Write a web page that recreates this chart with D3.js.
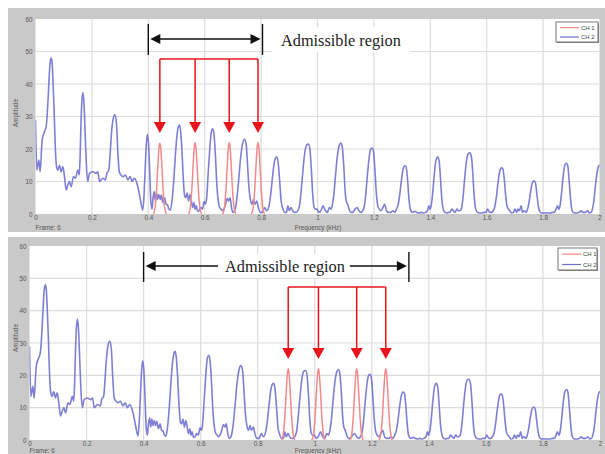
<!DOCTYPE html>
<html><head><meta charset="utf-8">
<script src="https://cdn.jsdelivr.net/npm/d3@7"></script>
<style>body{margin:0;background:#fff;overflow:hidden}svg{display:block}</style></head>
<body>
<svg id="c" width="605" height="454"></svg>
<script>
// ---------- data ----------
const freqTicks = [0,0.2,0.4,0.6,0.8,1,1.2,1.4,1.6,1.8,2];
const freqTickLabels = ["0","0.2","0.4","0.6","0.8","1","1.2","1.4","1.6","1.8","2"];
const ampTicks = [0,10,20,30,40,50,60];
const seriesNames = ["CH 1","CH 2"];
const frameLabel = "Frame: 6";
const xTitle = "Frequency (kHz)";
const yTitle = "Amplitude";
const annotationText = "Admissible region";

// CH 2 (blue) spectrum, [kHz, amplitude]
const ch2 = [
[0,28.9],[0.0047,13.5],[0.0118,16.6],[0.0165,13],[0.0236,22.8],[0.0319,25.3],[0.038,27],[0.041,30],[0.045,36],[0.049,43],[0.0525,47],[0.0556,48],[0.059,46.5],[0.062,41],[0.066,32],[0.07,21],[0.074,15],[0.0795,13.5],[0.0851,15],[0.091,13],[0.097,14.6],[0.1028,11.5],[0.1087,7.4],[0.1147,8.9],[0.1206,10],[0.1265,8.4],[0.1348,11.5],[0.1418,11],[0.1501,13.5],[0.155,12],[0.158,17],[0.161,27],[0.164,34],[0.168,37.4],[0.172,34],[0.176,25],[0.18,16],[0.185,10],[0.1915,12.5],[0.2033,13],[0.2151,12.5],[0.221,13],[0.227,10],[0.2388,11],[0.2482,10.5],[0.253,12.5],[0.26,13.5],[0.265,19],[0.27,25.5],[0.276,29.5],[0.2815,30.5],[0.287,28],[0.292,19],[0.297,13],[0.3035,12],[0.3097,11.5],[0.3191,12],[0.3274,10.5],[0.3357,11.5],[0.3428,10],[0.351,11],[0.3629,8.4],[0.3712,4.8],[0.3806,1.2],[0.385,6],[0.389,14],[0.393,21.5],[0.397,24.5],[0.401,21.5],[0.405,13],[0.409,4],[0.413,1.5],[0.417,5],[0.421,6.9],[0.425,4],[0.429,6.5],[0.433,4.5],[0.437,6],[0.442,4.5],[0.446,5.8],[0.452,3.5],[0.458,5],[0.463,3],[0.468,2.8],[0.473,1.5],[0.478,1.2],[0.484,4],[0.49,10],[0.496,18],[0.502,24.5],[0.507,27],[0.51,27.4],[0.514,26],[0.519,20],[0.524,11],[0.529,5.5],[0.533,5],[0.538,6.5],[0.543,4],[0.548,6],[0.552,4.5],[0.557,2],[0.562,3.5],[0.566,1.5],[0.57,2.5],[0.575,0.8],[0.58,1],[0.586,2],[0.592,1.5],[0.598,3.8],[0.603,3],[0.607,5],[0.612,12],[0.618,20],[0.623,25],[0.628,26.2],[0.633,24.5],[0.638,18],[0.643,9],[0.648,4],[0.653,2],[0.658,1.5],[0.663,1],[0.668,1.5],[0.674,3],[0.68,4.8],[0.685,4],[0.69,5],[0.695,2],[0.7,0.5],[0.706,1],[0.713,4],[0.72,10],[0.727,17],[0.734,21.5],[0.741,23],[0.747,21.5],[0.752,15],[0.757,8],[0.762,4.5],[0.768,3],[0.773,4.5],[0.778,3],[0.785,4],[0.79,2],[0.797,0.5],[0.805,0.5],[0.812,2],[0.82,1],[0.828,2.5],[0.834,6],[0.84,11],[0.846,15.5],[0.852,17.3],[0.856,17.5],[0.861,15.5],[0.866,10],[0.871,4],[0.876,2],[0.884,0.5],[0.89,0.5],[0.895,2.5],[0.9,1],[0.906,2],[0.912,1],[0.918,0.5],[0.925,0.5],[0.93,1],[0.937,3],[0.943,8],[0.949,14],[0.956,19.5],[0.962,21.3],[0.968,21.5],[0.973,20],[0.978,14],[0.983,6],[0.988,2],[0.993,1.5],[0.998,1.5],[1.005,0.5],[1.012,1],[1.02,2.5],[1.028,1],[1.035,0.5],[1.042,2],[1.048,1.5],[1.052,2.5],[1.058,6],[1.064,12],[1.07,17.5],[1.077,21],[1.083,21.8],[1.088,20.5],[1.093,15],[1.098,7],[1.102,4],[1.107,3],[1.112,1.5],[1.118,0.5],[1.125,0.5],[1.133,1.5],[1.14,2],[1.147,1],[1.155,0.5],[1.16,1],[1.165,2],[1.17,5],[1.176,11],[1.182,16.5],[1.188,19.8],[1.194,20.3],[1.199,19],[1.204,13],[1.209,6],[1.214,2.5],[1.219,1.5],[1.225,1],[1.232,2],[1.238,3],[1.245,1],[1.252,0.5],[1.26,0.5],[1.267,1],[1.275,0.5],[1.28,1.5],[1.285,2.5],[1.291,5.5],[1.297,10],[1.303,13.5],[1.309,14.8],[1.314,14.5],[1.319,11],[1.324,5],[1.329,1.5],[1.337,0.5],[1.345,0.8],[1.352,0.5],[1.36,0.3],[1.368,0.5],[1.375,0.3],[1.383,0.5],[1.39,1],[1.395,2.5],[1.399,1.5],[1.403,2.5],[1.408,6],[1.414,12],[1.42,16.5],[1.426,17.5],[1.431,16.5],[1.436,11],[1.441,4.5],[1.446,1.5],[1.452,0.5],[1.458,0.3],[1.465,0.5],[1.47,0.5],[1.476,1.5],[1.482,1],[1.488,0.5],[1.494,1.5],[1.5,1],[1.505,1],[1.51,1.5],[1.516,5],[1.522,11],[1.528,16],[1.534,18.5],[1.54,18.8],[1.546,17.5],[1.551,12],[1.556,5],[1.561,1.5],[1.568,0.5],[1.575,0.3],[1.582,0.3],[1.59,0.5],[1.597,0.5],[1.603,1.5],[1.61,0.5],[1.617,0.5],[1.623,1],[1.628,2],[1.634,5],[1.64,9.5],[1.646,13],[1.652,14.2],[1.657,14],[1.662,11],[1.667,6],[1.672,2.5],[1.677,1.5],[1.682,1],[1.688,0.3],[1.695,0.5],[1.7,1.5],[1.706,0.5],[1.711,1.5],[1.716,1],[1.722,2.5],[1.727,0.5],[1.733,1],[1.74,0.5],[1.745,1.5],[1.75,3.5],[1.756,7],[1.762,9.6],[1.768,10.2],[1.773,9.5],[1.778,6],[1.783,2.5],[1.788,0.8],[1.795,0.3],[1.805,0.3],[1.815,0.3],[1.825,0.3],[1.833,0.5],[1.84,0.5],[1.846,1.5],[1.851,2.5],[1.856,1.5],[1.86,2.5],[1.865,6],[1.871,11.5],[1.877,15],[1.883,15.6],[1.888,14.5],[1.893,9.5],[1.898,4],[1.903,1],[1.91,0.3],[1.92,0.3],[1.928,0.5],[1.935,1],[1.94,0.5],[1.95,0.5],[1.958,1],[1.964,0.3],[1.97,0.5],[1.975,1.5],[1.98,4],[1.986,9],[1.992,13],[1.997,14.8],[2.0,15]
];

// CH 1 (red) peaks, [kHz, amplitude]; null separates peaks
const ch1Top = [
[0.418,0],[0.424,2],[0.429,7],[0.434,15],[0.438,20.5],[0.441,21.8],[0.444,20.5],[0.448,15],[0.453,7],[0.458,2],[0.464,0],null,
[0.543,0],[0.549,2],[0.554,7],[0.559,15],[0.563,20.5],[0.566,22],[0.569,20.5],[0.573,15],[0.578,7],[0.583,2],[0.589,0],null,
[0.664,0],[0.67,2],[0.675,7],[0.68,15],[0.684,20.5],[0.687,22],[0.69,20.5],[0.694,15],[0.699,7],[0.704,2],[0.71,0],null,
[0.766,0],[0.772,2],[0.777,7],[0.782,15],[0.786,20.5],[0.789,22],[0.792,20.5],[0.796,15],[0.801,7],[0.806,2],[0.812,0]
];
const ch1Bottom = [
[0.884,0],[0.89,2],[0.895,7],[0.9,15],[0.904,20.5],[0.907,22],[0.91,20.5],[0.914,15],[0.919,7],[0.924,2],[0.93,0],null,
[0.99,0],[0.996,2],[1.001,7],[1.006,15],[1.01,20.5],[1.013,22],[1.016,20.5],[1.02,15],[1.025,7],[1.03,2],[1.036,0],null,
[1.124,0],[1.13,2],[1.135,7],[1.14,15],[1.144,20.5],[1.147,22],[1.15,20.5],[1.154,15],[1.159,7],[1.164,2],[1.17,0],null,
[1.226,0],[1.232,2],[1.237,7],[1.242,15],[1.246,20.5],[1.249,22],[1.252,20.5],[1.256,15],[1.261,7],[1.266,2],[1.272,0]
];
const ch1TopPeaks = [0.441,0.566,0.687,0.789];
const ch1BottomPeaks = [0.907,1.013,1.147,1.249];
const admissibleTop = [0.4, 0.805];
const admissibleBottom = [0.4, 1.33];

// ---------- drawing ----------
const svg = d3.select('#c');
const defs = svg.append('defs');
const C1 = '#f28a8a', C2 = '#7070cf', RED = '#e8141c';
const SANS = 'Liberation Sans, Arial, sans-serif';

const panels = [
  {id:'p0', frame:{x:8,y:8,w:597,h:224}, plot:{l:35.5,r:599.5,t:19,b:214}, red:ch1Top, peaks:ch1TopPeaks,
   adm:admissibleTop, admMode:'top', admY:[24,55,39], redY:[59,133], legend:{x:556,y:22,w:42,h:20}, titleY:230, yTitleY:113},
  {id:'p1', frame:{x:8,y:237,w:597,h:220}, plot:{l:29.5,r:600,t:246,b:440}, red:ch1Bottom, peaks:ch1BottomPeaks,
   adm:admissibleBottom, admMode:'bottom', admY:[252,282,266], redY:[287,359], legend:{x:558,y:248,w:39,h:22}, titleY:452.5, yTitleY:338}
];

function arrowHead(g, x, y, dir, len, half, color){
  let pts;
  if(dir==='left') pts=[[x,y],[x+len,y-half],[x+len,y+half]];
  else if(dir==='right') pts=[[x,y],[x-len,y-half],[x-len,y+half]];
  else pts=[[x,y],[x-half,y-len],[x+half,y-len]];
  g.append('path').attr('d','M'+pts.map(p=>p.join(',')).join('L')+'Z').attr('fill',color);
}

panels.forEach(P=>{
  const g = svg.append('g');
  const f = P.frame, p = P.plot;
  g.append('rect').attr('x',f.x).attr('y',f.y).attr('width',f.w).attr('height',f.h).attr('fill','#c9c9c9');
  g.append('rect').attr('x',p.l).attr('y',p.t).attr('width',p.r-p.l).attr('height',p.b-p.t).attr('fill','#fff');

  const x = d3.scaleLinear().domain([0,2]).range([p.l,p.r]);
  const y = d3.scaleLinear().domain([0,60]).range([p.b,p.t]);

  // grid
  g.append('g').selectAll('line').data(freqTicks.slice(1,-1)).join('line')
    .attr('x1',d=>x(d)).attr('x2',d=>x(d)).attr('y1',p.t).attr('y2',p.b)
    .attr('stroke','#dcdcdc').attr('stroke-width',1.2);
  g.append('g').selectAll('line').data(ampTicks.slice(1,-1)).join('line')
    .attr('y1',d=>y(d)).attr('y2',d=>y(d)).attr('x1',p.l).attr('x2',p.r)
    .attr('stroke','#dcdcdc').attr('stroke-width',1.2);

  // axes
  const xa = g.append('g').attr('transform',`translate(0,${p.b})`)
    .call(d3.axisBottom(x).tickValues(freqTicks).tickFormat((d,i)=>freqTickLabels[i]).tickSize(0).tickPadding(2));
  const ya = g.append('g').attr('transform',`translate(${p.l},0)`)
    .call(d3.axisLeft(y).tickValues(ampTicks).tickSize(0).tickPadding(3));
  [xa,ya].forEach(a=>{a.select('.domain').remove();
    a.selectAll('text').attr('font-family',SANS).attr('font-size',6.3).attr('fill','#555');});

  g.append('text').attr('x',p.l).attr('y',P.titleY).text(frameLabel)
    .attr('font-family',SANS).attr('font-size',6.3).attr('fill','#555');
  g.append('text').attr('x',318).attr('y',P.titleY).attr('text-anchor','middle').text(xTitle)
    .attr('font-family',SANS).attr('font-size',6.3).attr('fill','#555');
  g.append('text').attr('transform',`translate(${f.x+10},${P.yTitleY}) rotate(-90)`).attr('text-anchor','middle').text(yTitle)
    .attr('font-family',SANS).attr('font-size',6.3).attr('fill','#555');

  // clip
  defs.append('clipPath').attr('id','clip'+P.id).append('rect')
    .attr('x',p.l).attr('y',p.t-2).attr('width',p.r-p.l+2).attr('height',p.b-p.t+2);
  const line = d3.line().defined(d=>d!==null).x(d=>x(d[0])).y(d=>y(d[1])).curve(d3.curveMonotoneX);
  const cg = g.append('g').attr('clip-path',`url(#clip${P.id})`);
  cg.append('path').datum(ch2).attr('d',line).attr('fill','none').attr('stroke',C2).attr('stroke-width',1.6).attr('stroke-opacity',0.9).attr('stroke-linejoin','round');
  cg.append('path').datum(P.red).attr('d',line).attr('fill','none').attr('stroke',C1).attr('stroke-width',1.5).attr('stroke-linejoin','round');

  // legend
  const L = P.legend;
  g.append('rect').attr('x',L.x+1).attr('y',L.y+1).attr('width',L.w).attr('height',L.h).attr('fill','#999');
  g.append('rect').attr('x',L.x).attr('y',L.y).attr('width',L.w).attr('height',L.h).attr('fill','#fff').attr('stroke','#555').attr('stroke-width',0.8);
  [C1,C2].forEach((c,i)=>{
    const yy = L.y + (i===0 ? L.h*0.28 : L.h*0.75);
    g.append('line').attr('x1',L.x+4).attr('x2',L.x+23).attr('y1',yy).attr('y2',yy).attr('stroke',c).attr('stroke-width',1.2);
    g.append('text').attr('x',L.x+25).attr('y',yy+2).text(seriesNames[i])
      .attr('font-family',SANS).attr('font-size',6).attr('fill','#444');
  });

  // admissible region annotation
  const a = svg.append('g');
  const xa0 = x(P.adm[0]), xa1 = x(P.adm[1]);
  const [by0,by1,ay] = P.admY;
  [xa0,xa1].forEach(xx=>a.append('line').attr('x1',xx).attr('x2',xx).attr('y1',by0).attr('y2',by1).attr('stroke','#111').attr('stroke-width',1.4));
  if(P.admMode==='top'){
    const t = a.append('text').attr('x',281).attr('y',46).text(annotationText)
      .attr('font-family','Liberation Serif, Times New Roman, serif').attr('font-size',16.3).attr('fill','#222');
    const w = t.node().getComputedTextLength();
    a.insert('rect','text').attr('x',272).attr('y',27).attr('width',w+18).attr('height',25).attr('fill','#fff');
    a.append('line').attr('x1',xa0+6).attr('x2',xa1-6).attr('y1',ay).attr('y2',ay).attr('stroke','#111').attr('stroke-width',1.3);
    arrowHead(a,xa0+2,ay,'left',10,5,'#111');
    arrowHead(a,xa1-2,ay,'right',10,5,'#111');
  } else {
    const t = a.append('text').attr('x',225).attr('y',272).text(annotationText)
      .attr('font-family','Liberation Serif, Times New Roman, serif').attr('font-size',16.3).attr('fill','#222');
    const w = t.node().getComputedTextLength();
    a.insert('rect','text').attr('x',220).attr('y',254).attr('width',w+10).attr('height',24).attr('fill','#fff');
    a.append('line').attr('x1',xa0+6).attr('x2',218).attr('y1',ay).attr('y2',ay).attr('stroke','#111').attr('stroke-width',1.3);
    a.append('line').attr('x1',225+w+5).attr('x2',xa1-6).attr('y1',ay).attr('y2',ay).attr('stroke','#111').attr('stroke-width',1.3);
    arrowHead(a,xa0+2,ay,'left',10,5,'#111');
    arrowHead(a,xa1-2,ay,'right',10,5,'#111');
  }

  // red arrows
  const r = svg.append('g');
  const [ry0, ry1] = P.redY;
  const px = P.peaks.map(x);
  r.append('line').attr('x1',px[0]).attr('x2',px[px.length-1]).attr('y1',ry0).attr('y2',ry0).attr('stroke',RED).attr('stroke-width',1.5);
  px.forEach(xx=>{
    r.append('line').attr('x1',xx).attr('x2',xx).attr('y1',ry0).attr('y2',ry1-8).attr('stroke',RED).attr('stroke-width',1.5);
    arrowHead(r,xx,ry1,'down',11,6,RED);
  });
});
</script>
</body></html>
